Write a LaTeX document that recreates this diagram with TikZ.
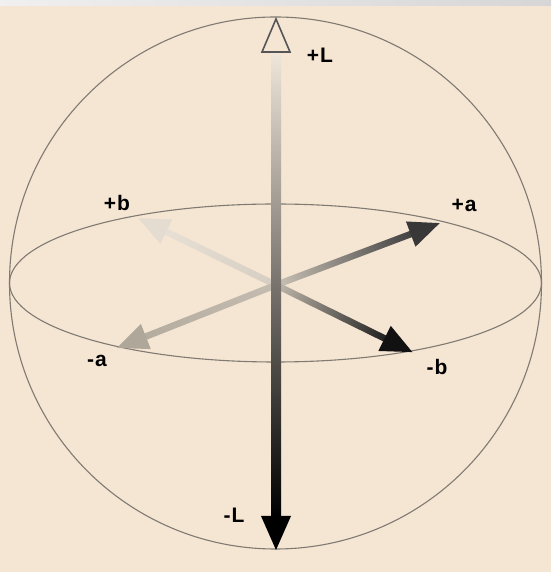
\documentclass[tikz,border=0pt]{standalone}
\usepackage{fontspec}
\setmainfont{Liberation Sans}
\newfontfamily\lblfont[LetterSpace=5]{Liberation Sans}
\definecolor{bg}{HTML}{F5E5D3}
\definecolor{rim}{HTML}{807A72}
\definecolor{pbA}{HTML}{D6CEC2}
\definecolor{pbB}{HTML}{E8E0D4}
\definecolor{pbH}{HTML}{E4DCD0}
\definecolor{maA}{HTML}{C4BCB0}
\definecolor{maB}{HTML}{B4AC9F}
\definecolor{maH}{HTML}{AFA799}
\definecolor{paA}{HTML}{C8C0B4}
\definecolor{paB}{HTML}{404040}
\definecolor{paH}{HTML}{383838}
\definecolor{mbA}{HTML}{BEB6AA}
\definecolor{mbB}{HTML}{1E1E1E}
\definecolor{mbH}{HTML}{111111}
\definecolor{vTop}{HTML}{F0E6DA}
\definecolor{vMid}{HTML}{A8A095}
\definecolor{triEdge}{HTML}{555555}
\newcommand\gradarrow[6]{%
  \begin{scope}[transform canvas={shift={(276pt,287pt)},rotate=#1}]
    \shade[left color=#3,right color=#4] (2,-3.3) rectangle (#2-28,3.3);
    \fill[#5] (#2,0) -- (#2-31,#6) -- (#2-31,-#6) -- cycle;
  \end{scope}}
\begin{document}
\begin{tikzpicture}[x=1pt,y=1pt,
  lbl/.style={font=\lblfont\bfseries\fontsize{21}{21}\selectfont,inner sep=0pt,text=black},
  rimline/.style={draw=rim,line width=1.1pt}]
\fill[bg] (0,0) rectangle (551,572);
\useasboundingbox (0,0) rectangle (551,572);
\shade[left color=gray!12,right color=gray!32] (0,566) rectangle (551,572);
\coordinate (O) at (276,287);
\coordinate (C) at (275.5,289);
% sphere and equator
\draw[rimline] (C) circle[radius=266];
\draw[rimline] (C) ellipse[x radius=266,y radius=79];
% horizontal arrows
\gradarrow{154.1}{153}{pbA}{pbB}{pbH}{13.5}
\gradarrow{201.6}{171}{maA}{maB}{maH}{13.5}
\gradarrow{20.7}{175}{paA}{paB}{paH}{13.5}
\gradarrow{-26.2}{152}{mbA}{mbB}{mbH}{14}
% vertical axis
\shade[top color=vTop,middle color=vMid,bottom color=black]
  (271,55) rectangle (281,520);
\fill[black] (276,22) -- (261,56) -- (291,56) -- cycle;
\draw[line width=1.6pt,draw=triEdge,fill=bg,line join=miter]
  (276,553) -- (262,520) -- (290,520) -- cycle;
% labels
\node[lbl] (pL) at (320,517) {+L};
\node[lbl] (mL) at (234,57) {-L};
\node[lbl] (pb) at (117,369) {+b};
\node[lbl] (pa) at (464,367) {+a};
\node[lbl] (ma) at (97,211) {-a};
\node[lbl] (mb) at (437,205) {-b};
\end{tikzpicture}
\end{document}
